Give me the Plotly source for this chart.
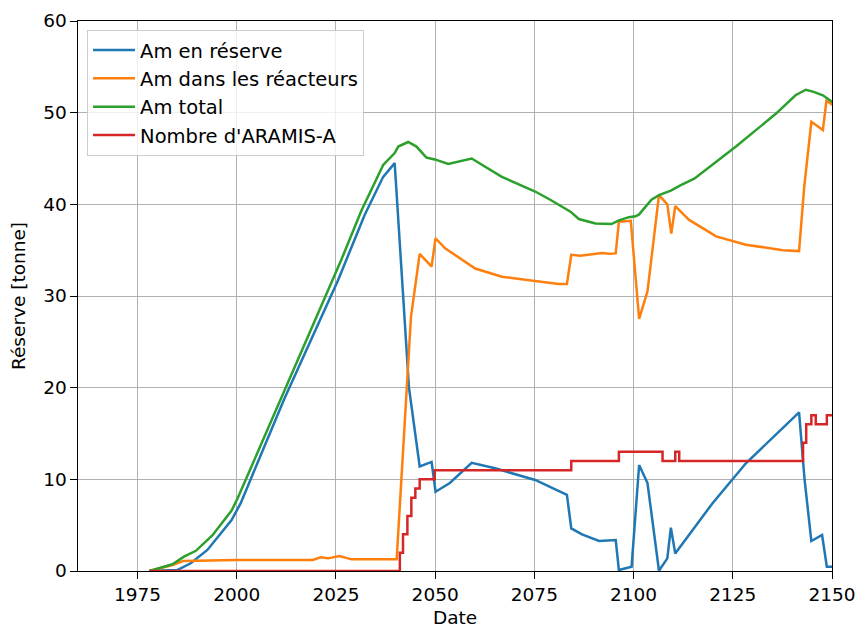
import plotly.graph_objects as go

# Am en réserve (tonnes)
reserve_years = [1978, 1985, 1988.4, 1992.6, 1998.7, 2001, 2012, 2025.5, 2032.2, 2036.9,
                 2039.8, 2043.4, 2046.1, 2049.1, 2050.1, 2053.7, 2059.2, 2065.1, 2075.2,
                 2083.2, 2084.3, 2087, 2091.3, 2095.5, 2096.3, 2099.5, 2101.4, 2103.5,
                 2106.4, 2108.5, 2109.4, 2110.5, 2119.9, 2128.3, 2141.7, 2143.1, 2144.8,
                 2147.5, 2148.7, 2150.5]
reserve = [0, 0.1, 0.84, 2.3, 5.56, 7.4, 18.8, 31.7, 38.8, 43.0,
           44.5, 20.0, 11.4, 11.9, 8.65, 9.6, 11.8, 11.2, 9.93,
           8.3, 4.65, 4.0, 3.27, 3.38, 0.1, 0.47, 11.56, 9.6,
           0.03, 1.38, 4.73, 1.9, 7.4, 11.75, 17.3, 9.93, 3.27,
           3.93, 0.47, 0.47]

# Am dans les réacteurs (tonnes)
reactor_years = [1978, 1983.8, 1986.5, 2000, 2019.2, 2021.1, 2023, 2025.9, 2028.9, 2040.3,
                 2043.9, 2046.1, 2049.1, 2050.1, 2052.5, 2060.1, 2066.8, 2075.2, 2079,
                 2081.1, 2083.2, 2084.3, 2086.6, 2092.1, 2093.8, 2095.5, 2096.3, 2099.3,
                 2101.4, 2103.5, 2106.4, 2108.5, 2109.5, 2110.5, 2114, 2120.8, 2128.3,
                 2137.6, 2141.7, 2143, 2144.8, 2147.7, 2148.6, 2150.3]
reactor = [0, 0.65, 1.09, 1.2, 1.2, 1.49, 1.38, 1.64, 1.27, 1.27,
           27.7, 34.6, 33.2, 36.3, 35.2, 33.0, 32.1, 31.6, 31.45,
           31.3, 31.3, 34.5, 34.4, 34.7, 34.6, 34.65, 38.1, 38.2,
           27.5, 30.5, 41.0, 40.0, 36.8, 39.8, 38.3, 36.5, 35.6,
           35.0, 34.9, 41.9, 49.0, 48.1, 51.3, 50.8]

# Am total (tonnes)
total_years = [1978, 1983.8, 1986.7, 1989.7, 1993.9, 1998.7, 2000.2, 2011.2, 2026.3, 2031.4,
               2036.9, 2039.8, 2040.7, 2043.2, 2045.3, 2047.8, 2049.9, 2053.3, 2059.2,
               2066.8, 2075.2, 2079, 2082, 2084.1, 2086.2, 2090.4, 2094.4, 2096.3, 2098.8,
               2100.5, 2101.4, 2104.5, 2106.4, 2109.4, 2111.9, 2115.3, 2125.8, 2135.9,
               2140.8, 2143.4, 2145.2, 2147.7, 2150.3]
total = [0, 0.73, 1.56, 2.2, 3.9, 6.6, 7.9, 18.8, 33.9, 39.3,
         44.3, 45.6, 46.3, 46.8, 46.3, 45.1, 44.9, 44.4, 45.0,
         43.0, 41.4, 40.5, 39.7, 39.2, 38.4, 37.9, 37.85, 38.25, 38.6,
         38.7, 38.9, 40.5, 41.0, 41.5, 42.1, 42.8, 46.3, 49.9,
         51.9, 52.5, 52.3, 51.9, 51.1]

# Nombre d'ARAMIS-A (step series)
aramis_years = [1978, 2041.1, 2041.9, 2043, 2044, 2045, 2046.1, 2049.9, 2084.3, 2096.3,
                2107.3, 2110.5, 2111.5, 2142.7, 2143.5, 2144.8, 2145.9, 2148.7, 2150.5]
aramis = [0, 2, 4, 6, 8, 9, 10, 11, 12, 13,
          12, 13, 12, 14, 16, 17, 16, 17, 17]

x_ticks = [1975, 2000, 2025, 2050, 2075, 2100, 2125, 2150]
y_ticks = [0, 10, 20, 30, 40, 50, 60]

FONT = "DejaVu Sans"
FS = 18.5
LW = 2.5

fig = go.Figure()
fig.add_trace(go.Scatter(x=reserve_years, y=reserve, mode="lines", name="Am en réserve",
                         line=dict(color="#1f77b4", width=LW)))
fig.add_trace(go.Scatter(x=reactor_years, y=reactor, mode="lines", name="Am dans les réacteurs",
                         line=dict(color="#ff7f0e", width=LW)))
fig.add_trace(go.Scatter(x=total_years, y=total, mode="lines", name="Am total",
                         line=dict(color="#2ca02c", width=LW)))
fig.add_trace(go.Scatter(x=aramis_years, y=aramis, mode="lines", name="Nombre d'ARAMIS-A",
                         line=dict(color="#d62728", width=LW, shape="hv")))

axis_common = dict(
    showline=True, linecolor="black", linewidth=1.1, mirror=True,
    showgrid=True, gridcolor="#b0b0b0", gridwidth=1.1,
    ticks="outside", ticklen=6.5, tickwidth=1.1, tickcolor="black",
    tickfont=dict(family=FONT, size=FS, color="black"),
    zeroline=False, automargin=False,
)

fig.update_layout(
    width=860, height=628,
    margin=dict(l=78, r=28, t=21, b=57),
    paper_bgcolor="white", plot_bgcolor="white",
    font=dict(family=FONT, size=FS, color="black"),
    xaxis=dict(range=[1960, 2150], tickvals=x_ticks,
               title=dict(text="Date", font=dict(family=FONT, size=FS), standoff=9),
               **axis_common),
    yaxis=dict(range=[0, 60], tickvals=y_ticks,
               title=dict(text="Réserve [tonne]", font=dict(family=FONT, size=FS), standoff=12),
               **axis_common),
    legend=dict(x=0.012, y=0.984, xanchor="left", yanchor="top",
                bgcolor="rgba(255,255,255,0.8)", bordercolor="#cccccc", borderwidth=1,
                font=dict(family=FONT, size=19.5, color="black"),
                itemwidth=42, tracegroupgap=0),
    showlegend=True,
)

fig.write_html("out.html")
